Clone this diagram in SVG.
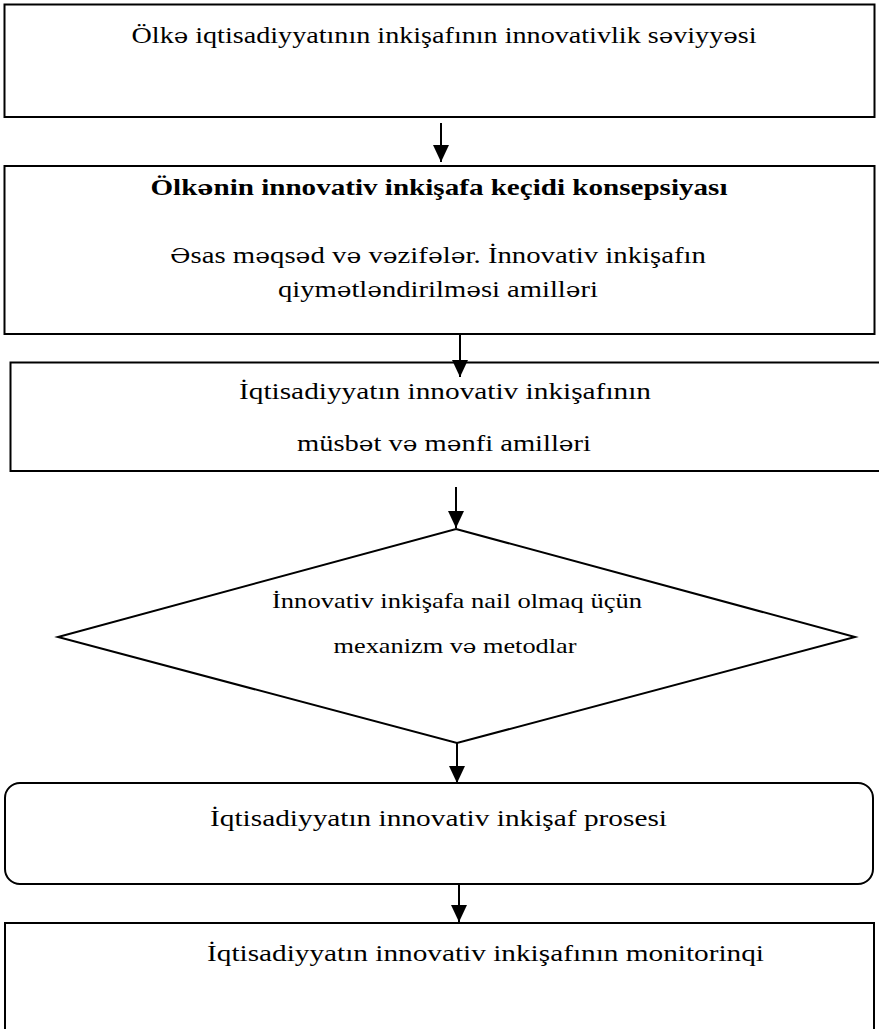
<svg xmlns="http://www.w3.org/2000/svg" width="879" height="1029" viewBox="0 0 879 1029">
<style>
  .box{fill:#fff;stroke:#000;stroke-width:2}
  .t{font-family:"Liberation Serif","Times New Roman",serif;font-size:24px;fill:#000;text-anchor:middle}
  .b{font-weight:bold}
  .d{font-size:21px}
  .e{font-family:"DejaVu Serif","Liberation Serif",serif;font-size:0.87em}
  .c{stroke:#000;stroke-width:2;fill:none}
</style>
<defs>
  <marker id="a" markerUnits="userSpaceOnUse" markerWidth="18" markerHeight="16" refX="17" refY="8" orient="auto" viewBox="0 0 18 16">
    <path d="M0,0 L17,8 L0,16 Z" fill="#000"/>
  </marker>
</defs>
<rect width="879" height="1029" fill="#fff"/>
<g id="n1">
  <rect class="box" x="4.5" y="4.5" width="870" height="112.5"/>
  <text class="t" x="444" y="43" textLength="625" lengthAdjust="spacingAndGlyphs">Ölk<tspan class="e">ə</tspan> iqtisadiyyatının inkişafının innovativlik s<tspan class="e">ə</tspan>viyy<tspan class="e">ə</tspan>si</text>
</g>
<g id="n2">
  <rect class="box" x="4.5" y="166" width="870" height="168"/>
  <text class="t b" x="439" y="195" textLength="577" lengthAdjust="spacingAndGlyphs">Ölk<tspan class="e">ə</tspan>nin innovativ inkişafa keçidi konsepsiyası</text>
  <text class="t" x="438" y="263" textLength="536" lengthAdjust="spacingAndGlyphs"><tspan class="e">Ə</tspan>sas m<tspan class="e">ə</tspan>qs<tspan class="e">ə</tspan>d v<tspan class="e">ə</tspan> v<tspan class="e">ə</tspan>zif<tspan class="e">ə</tspan>l<tspan class="e">ə</tspan>r. İnnovativ inkişafın</text>
  <text class="t" x="438" y="297" textLength="320" lengthAdjust="spacingAndGlyphs">qiym<tspan class="e">ə</tspan>tl<tspan class="e">ə</tspan>ndirilm<tspan class="e">ə</tspan>si amill<tspan class="e">ə</tspan>ri</text>
</g>
<g id="n3">
  <rect class="box" x="10.5" y="362.5" width="880" height="108.5"/>
  <text class="t" x="445" y="399" textLength="412" lengthAdjust="spacingAndGlyphs">İqtisadiyyatın innovativ inkişafının</text>
  <text class="t" x="444" y="451" textLength="294" lengthAdjust="spacingAndGlyphs">müsb<tspan class="e">ə</tspan>t v<tspan class="e">ə</tspan> m<tspan class="e">ə</tspan>nfi amill<tspan class="e">ə</tspan>ri</text>
</g>
<g id="n4">
  <polygon class="box" points="456,529 855,637 457,743 58,637"/>
  <text class="t d" x="457" y="608" textLength="370" lengthAdjust="spacingAndGlyphs">İnnovativ inkişafa nail olmaq üçün</text>
  <text class="t d" x="455" y="653" textLength="243" lengthAdjust="spacingAndGlyphs">mexanizm v<tspan class="e">ə</tspan> metodlar</text>
</g>
<g id="n5">
  <rect class="box" x="5" y="783" width="868" height="101" rx="15" ry="15"/>
  <text class="t" x="438.5" y="826" textLength="457" lengthAdjust="spacingAndGlyphs">İqtisadiyyatın innovativ inkişaf prosesi</text>
</g>
<g id="n6">
  <rect class="box" x="5" y="923" width="869" height="120"/>
  <text class="t" x="485.5" y="961" textLength="557" lengthAdjust="spacingAndGlyphs">İqtisadiyyatın innovativ inkişafının monitorinqi</text>
</g>
<g id="connectors">
  <line class="c" x1="441" y1="123" x2="441" y2="162" marker-end="url(#a)"/>
  <line class="c" x1="460" y1="334" x2="460" y2="377" marker-end="url(#a)"/>
  <line class="c" x1="456" y1="487" x2="456" y2="528" marker-end="url(#a)"/>
  <line class="c" x1="457" y1="743" x2="457" y2="783" marker-end="url(#a)"/>
  <line class="c" x1="459" y1="884" x2="459" y2="922" marker-end="url(#a)"/>
</g>
</svg>
